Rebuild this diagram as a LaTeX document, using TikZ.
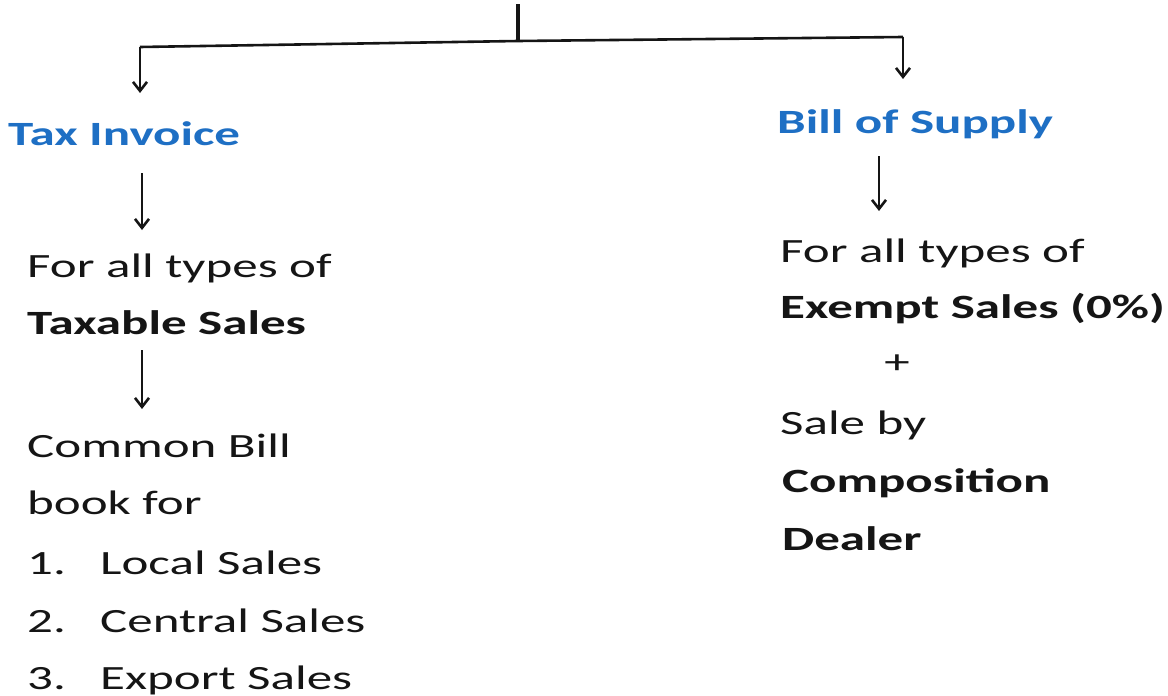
\documentclass[tikz,border=0pt]{standalone}
\usepackage{fontspec}
\setmainfont{Carlito}
\usepackage{graphicx}
\usetikzlibrary{arrows.meta}
\definecolor{hdblue}{HTML}{1E6FC4}
\definecolor{ink}{HTML}{151515}
\newcommand{\wide}[1]{\scalebox{1.5}[1]{#1}}
\tikzset{
  txt/.style={anchor=base west, inner sep=0pt, text=ink, font=\fontsize{34}{40}\selectfont},
  hd/.style={txt, text=hdblue, font=\fontsize{34}{40}\selectfont\bfseries},
  bld/.style={txt, font=\fontsize{34}{40}\selectfont\bfseries},
  ln/.style={line width=2.6pt, draw=ink},
  arr/.style={ln, -{Straight Barb[length=9pt,width=14pt,line width=2.6pt]}},
}
\begin{document}
\begin{tikzpicture}[x=1pt,y=-1pt]
\useasboundingbox (0,0) rectangle (1168,696);
% tree top
\coordinate (top) at (518,4);
\coordinate (mid) at (518,41);
\coordinate (lft) at (140,47);
\coordinate (rgt) at (903,37);
\coordinate (lfte) at (140,93);
\coordinate (rgte) at (903,79);
\draw[ln, line width=3.4pt] (top) -- (mid);
\draw[ln, line join=round] (lft) -- (mid) -- (rgt);
\draw[arr] (lft) -- (lfte);
\draw[arr] (rgt) -- (rgte);
% left column
\node[hd] (taxinv) at (8,145) {\wide{Tax Invoice}};
\coordinate (a1s) at (142,173);
\coordinate (a1e) at (142,230);
\draw[arr] (a1s) -- (a1e);
\node[txt] (forall1) at (27,277) {\wide{For all types of}};
\node[bld] (taxable) at (27,334) {\wide{Taxable Sales}};
\coordinate (a2s) at (142,350);
\coordinate (a2e) at (142,409);
\draw[arr] (a2s) -- (a2e);
\node[txt] (common) at (27,457) {\wide{Common Bill}};
\node[txt] (book) at (27,514) {\wide{book for}};
\node[txt] (n1) at (27,574) {\wide{1.}};
\node[txt] (l1) at (100,574) {\wide{Local Sales}};
\node[txt] (n2) at (27,632) {\wide{2.}};
\node[txt] (l2) at (100,632) {\wide{Central Sales}};
\node[txt] (n3) at (27,689) {\wide{3.}};
\node[txt] (l3) at (100,689) {\wide{Export Sales}};
% right column
\node[hd] (bos) at (777,133) {\wide{Bill of Supply}};
\coordinate (a3s) at (879,156);
\coordinate (a3e) at (879,211);
\draw[arr] (a3s) -- (a3e);
\node[txt] (forall2) at (780,262) {\wide{For all types of}};
\node[bld] (exempt) at (780,318) {\wide{Exempt Sales (0\%)}};
\node[txt, anchor=center] (plus) at (897,364) {\wide{+}};
\node[txt] (saleby) at (780,434) {\wide{Sale by}};
\node[bld] (compo) at (782,492) {\wide{Composition}};
\node[bld] (dealer) at (782,550) {\wide{Dealer}};
\end{tikzpicture}
\end{document}
